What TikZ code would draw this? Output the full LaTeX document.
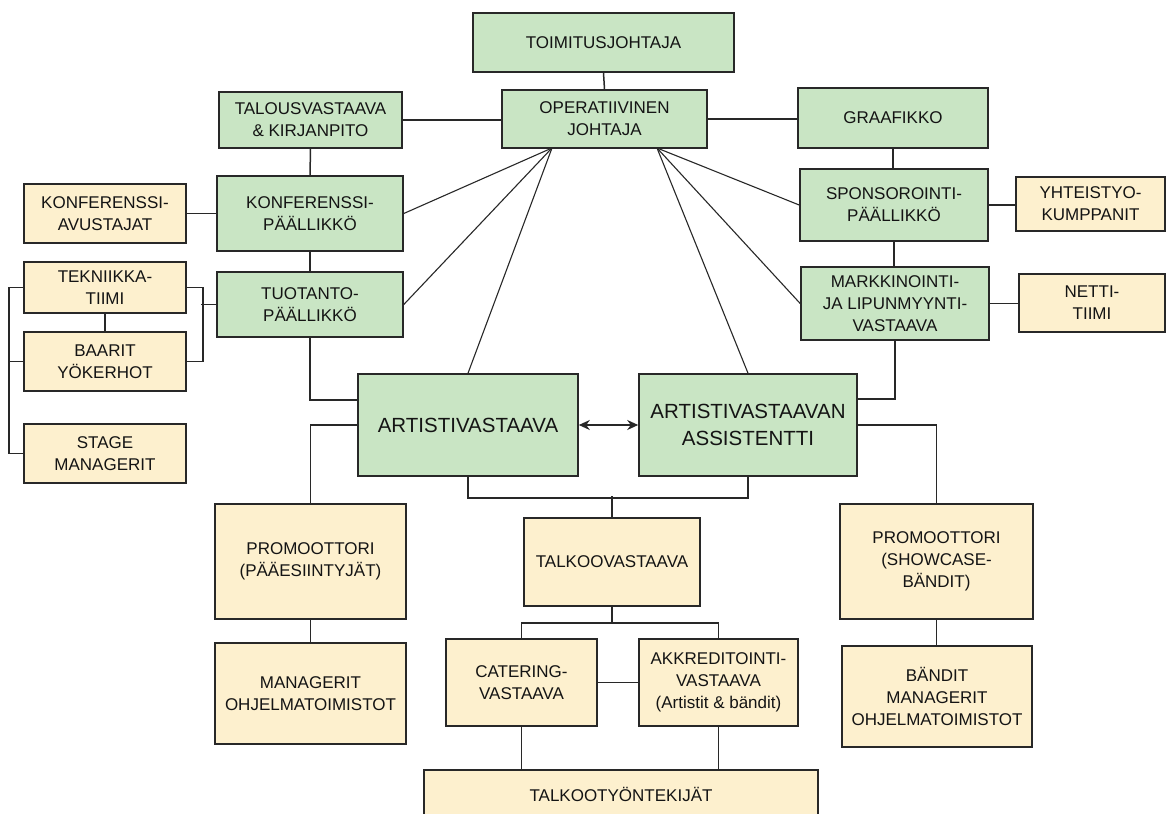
\documentclass[tikz,border=0pt]{standalone}
\usepackage{fontspec}
\setmainfont{Liberation Sans}
\usepackage{tikz}
\usetikzlibrary{positioning, arrows.meta, shapes.geometric}

\definecolor{boxgreen}{RGB}{201,229,196}
\definecolor{boxyellow}{RGB}{253,240,206}
\definecolor{boxline}{RGB}{40,40,40}
\definecolor{boxtext}{RGB}{20,20,20}

\tikzset{
    orgbox/.style={draw=boxline, line width=1.6pt, rectangle, inner sep=0pt, align=center,
        text=boxtext, font=\fontsize{17}{22}\selectfont},
    gbox/.style={orgbox, fill=boxgreen},
    ybox/.style={orgbox, fill=boxyellow},
    bigtext/.style={font=\fontsize{20.5}{27}\selectfont},
    link/.style={draw=boxline, line width=1.5pt},
}

\begin{document}
\begin{tikzpicture}[x=1pt, y=-1pt]
    \clip (0,0) rectangle (1168,814);
    \fill[white] (0,0) rectangle (1168,814);

    % Johto
    \node[gbox, minimum width=261pt, minimum height=59pt] (toim) at (603.5,42.5) {TOIMITUSJOHTAJA};
    \node[gbox, minimum width=205pt, minimum height=58pt] (oper) at (604.5,119) {OPERATIIVINEN\\JOHTAJA};
    \node[gbox, minimum width=183pt, minimum height=56pt] (talous) at (310.5,120) {TALOUSVASTAAVA\\\& KIRJANPITO};
    \node[gbox, minimum width=190pt, minimum height=60pt] (graaf) at (893,118) {GRAAFIKKO};

    % Vasen puoli
    \node[gbox, minimum width=186pt, minimum height=75pt] (konfp) at (310,213.5) {KONFERENSSI-\\PÄÄLLIKKÖ};
    \node[ybox, minimum width=162pt, minimum height=59pt] (konfav) at (105,213.5) {KONFERENSSI-\\AVUSTAJAT};
    \node[gbox, minimum width=186pt, minimum height=65pt] (tuot) at (310,304.5) {TUOTANTO-\\PÄÄLLIKKÖ};
    \node[ybox, minimum width=162pt, minimum height=51pt] (tekn) at (105,287.5) {TEKNIIKKA-\\TIIMI};
    \node[ybox, minimum width=162pt, minimum height=59pt] (baarit) at (105,361.5) {BAARIT\\YÖKERHOT};
    \node[ybox, minimum width=162pt, minimum height=59pt] (stage) at (105,453.5) {STAGE\\MANAGERIT};

    % Oikea puoli
    \node[gbox, minimum width=188pt, minimum height=72pt] (spons) at (894,205) {SPONSOROINTI-\\PÄÄLLIKKÖ};
    \node[ybox, minimum width=149pt, minimum height=54pt] (yht) at (1090.5,204) {YHTEISTYO-\\KUMPPANIT};
    \node[gbox, minimum width=188pt, minimum height=73pt] (markk) at (895,303.5) {MARKKINOINTI-\\JA LIPUNMYYNTI-\\VASTAAVA};
    \node[ybox, minimum width=146pt, minimum height=58pt] (netti) at (1092,303) {NETTI-\\TIIMI};

    % Artistit
    \node[gbox, bigtext, minimum width=220pt, minimum height=102pt] (artv) at (468,425) {ARTISTIVASTAAVA};
    \node[gbox, bigtext, minimum width=218pt, minimum height=102pt] (assist) at (748,425) {ARTISTIVASTAAVAN\\ASSISTENTTI};
    \node[ybox, minimum width=191pt, minimum height=115pt] (promop) at (310.5,561.5) {PROMOOTTORI\\(PÄÄESIINTYJÄT)};
    \node[ybox, minimum width=191pt, minimum height=101pt] (manag) at (310.5,693.5) {MANAGERIT\\OHJELMATOIMISTOT};
    \node[ybox, minimum width=193pt, minimum height=115pt] (promos) at (936.5,561.5) {PROMOOTTORI\\(SHOWCASE-\\BÄNDIT)};
    \node[ybox, minimum width=190pt, minimum height=101pt] (bandit) at (937,696.5) {BÄNDIT\\MANAGERIT\\OHJELMATOIMISTOT};

    % Talkoot
    \node[ybox, minimum width=176pt, minimum height=88pt] (talkoov) at (612,562) {TALKOOVASTAAVA};
    \node[ybox, minimum width=151pt, minimum height=87pt] (cater) at (521.5,682.5) {CATERING-\\VASTAAVA};
    \node[ybox, minimum width=159pt, minimum height=87pt] (akk) at (718.5,682.5) {AKKREDITOINTI-\\VASTAAVA\\(Artistit \& bändit)};
    \node[ybox, minimum width=394pt, minimum height=48pt] (talkty) at (621,794) {TALKOOTYÖNTEKIJÄT};

    % apupisteet
    \coordinate (operl) at (552,148);
    \coordinate (operr) at (657,148);
    \coordinate (artvin) at (358,400);
    \coordinate (assin) at (857,399);
    \coordinate (tbus) at (612,623);

    % Yhteydet ylhaalla
    \draw[link] (toim.south) -- (oper.north);
    \draw[link] (talous.east) -- (oper.west |- talous.east);
    \draw[link] (oper.east) -- (graaf.west |- oper.east);
    \draw[link] (talous.south) -- (konfp.north);
    \draw[link] (konfp.south) -- (tuot.north);
    \draw[link] (konfav.east) -- (konfp.west);
    \draw[link] (graaf.south) -- (spons.north -| graaf.south);
    \draw[link] (spons.south) -- (markk.north -| spons.south);
    \draw[link] (spons.east) -- (yht.west |- spons.east);
    \draw[link] (markk.east) -- (netti.west |- markk.east);

    % Tuotannon tiimit
    \draw[link] (tekn.south) -- (baarit.north);
    \draw[link] (tekn.east) -- ++(16,0) |- (baarit.east);
    \draw[link] (tuot.west) -- ++(-15,0);
    \draw[link] (tekn.west) -- ++(-14,0) |- (stage.west);
    \draw[link] (baarit.west) -- ++(-14,0);

    % Viuhka operatiiviselta
    \foreach \target in {konfp.east, tuot.east, artv.north} {
        \draw[link, line width=1.1pt] (operl) -- (\target);
    }
    \foreach \target in {spons.west, markk.west, assist.north} {
        \draw[link, line width=1.1pt] (operr) -- (\target);
    }

    % Artistivastaavat
    \draw[link] (tuot.south) |- (artvin);
    \draw[link] (markk.south) |- (assin);
    \draw[link, {Stealth[length=11pt,width=10pt]}-{Stealth[length=11pt,width=10pt]}] (artv.east) -- (assist.west);
    \draw[link] (artv.west) -| (promop.north);
    \draw[link] (promop.south) -- (manag.north);
    \draw[link] (assist.east) -| (promos.north);
    \draw[link] (promos.south) -- (bandit.north -| promos.south);
    \draw[link] (artv.south) -- ++(0,21) -| (assist.south);
    \draw[link] (talkoov.north) -- ++(0,-21);

    % Talkoot
    \draw[link] (talkoov.south) -- (tbus);
    \draw[link] (cater.north) |- (tbus) -| (akk.north);
    \draw[link] (cater.east) -- (akk.west);
    \draw[link] (cater.south) -- (cater.south |- talkty.north);
    \draw[link] (akk.south) -- (akk.south |- talkty.north);
\end{tikzpicture}
\end{document}
